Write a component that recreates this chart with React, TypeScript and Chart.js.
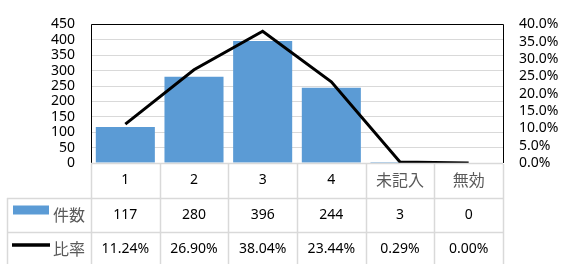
import { useEffect, useRef } from 'react';
import { Chart, registerables } from 'chart.js';

Chart.register(...registerables);

const categories = ['1', '2', '3', '4', '未記入', '無効'];
const counts = [117, 280, 396, 244, 3, 0];
const ratios = [11.24, 26.9, 38.04, 23.44, 0.29, 0.0];
const countName = '件数';
const ratioName = '比率';
const countAxis = { min: 0, max: 450, step: 50 };
const ratioAxis = { min: 0, max: 40, step: 5 };

const FONT = "'Noto Sans', 'Noto Sans CJK JP', sans-serif";
const CJK_FONT = "'Noto Sans CJK JP', sans-serif";
const BLUE = '#5B9BD5';
const GRID = '#D9D9D9';
const isCJK = (s: string) => /[^\x00-\x7F]/.test(s);

const tablePlugin = {
  id: 'dataTable',
  afterDraw(chart: any) {
    const { ctx, chartArea } = chart;
    const { left, right, top, bottom } = chartArea;
    const H = chart.height;
    const n = categories.length;
    const colW = (right - left) / n;
    const rowH = 34.5;
    const r1 = bottom;
    const r2 = bottom + rowH;
    const r3 = bottom + rowH * 2;
    const tableLeft = 7;
    ctx.save();
    // frame of plot (left, top, right)
    ctx.strokeStyle = '#000';
    ctx.lineWidth = 1;
    ctx.beginPath();
    ctx.moveTo(Math.round(left) + 0.5, Math.round(bottom));
    ctx.lineTo(Math.round(left) + 0.5, Math.round(top) + 0.5);
    ctx.lineTo(Math.round(right) + 0.5, Math.round(top) + 0.5);
    ctx.lineTo(Math.round(right) + 0.5, Math.round(bottom));
    ctx.stroke();
    // table grid
    ctx.strokeStyle = GRID;
    ctx.lineWidth = 1.5;
    ctx.beginPath();
    ctx.moveTo(left, Math.round(r1) + 0.5);
    ctx.lineTo(right, Math.round(r1) + 0.5);
    ctx.moveTo(tableLeft, Math.round(r2) + 0.5);
    ctx.lineTo(right, Math.round(r2) + 0.5);
    ctx.moveTo(tableLeft, Math.round(r3) + 0.5);
    ctx.lineTo(right, Math.round(r3) + 0.5);
    ctx.moveTo(tableLeft + 0.5, Math.round(r2));
    ctx.lineTo(tableLeft + 0.5, H);
    for (let i = 0; i <= n; i++) {
      const x = Math.round(left + i * colW) + 0.5;
      ctx.moveTo(x, Math.round(r1) + 1);
      ctx.lineTo(x, H);
    }
    ctx.stroke();
    // text
    ctx.textAlign = 'center';
    ctx.textBaseline = 'middle';
    const xs = chart.scales.x;
    for (let i = 0; i < n; i++) {
      const cx = xs.getPixelForValue(i);
      const cat = categories[i];
      if (isCJK(cat)) {
        ctx.font = `16px ${CJK_FONT}`;
        ctx.fillStyle = '#595959';
      } else {
        ctx.font = `14px ${FONT}`;
        ctx.fillStyle = '#000';
      }
      ctx.fillText(cat, cx, r1 + rowH / 2);
      ctx.font = `14px ${FONT}`;
      ctx.fillStyle = '#000';
      ctx.fillText(String(counts[i]), cx, r2 + rowH / 2);
      ctx.fillText(ratios[i].toFixed(2) + '%', cx, r3 + rowH / 2);
    }
    // legend keys
    ctx.fillStyle = BLUE;
    ctx.fillRect(13, r2 + 8, 36, 9);
    ctx.strokeStyle = '#000';
    ctx.lineWidth = 3.5;
    ctx.beginPath();
    ctx.moveTo(12, r3 + 13);
    ctx.lineTo(50, r3 + 13);
    ctx.stroke();
    ctx.fillStyle = '#595959';
    ctx.textAlign = 'left';
    ctx.font = `16px ${CJK_FONT}`;
    ctx.fillText(countName, 53, r2 + rowH / 2);
    ctx.fillText(ratioName, 53, r3 + rowH / 2);
    ctx.restore();
  },
};

export default function App() {
  const ref = useRef<HTMLCanvasElement>(null);
  useEffect(() => {
    document.body.style.margin = '0';
    const chart = new Chart(ref.current as HTMLCanvasElement, {
      type: 'bar',
      data: {
        labels: categories,
        datasets: [
          {
            type: 'line',
            label: ratioName,
            data: ratios,
            yAxisID: 'y1',
            borderColor: '#000',
            borderWidth: 3,
            pointRadius: 0,
            tension: 0,
            order: 0,
          } as any,
          {
            type: 'bar',
            label: countName,
            data: counts,
            yAxisID: 'y',
            backgroundColor: BLUE,
            barPercentage: 0.86,
            categoryPercentage: 1,
            order: 1,
          },
        ],
      },
      options: {
        responsive: false,
        animation: false,
        layout: { padding: { top: 16, bottom: 101, left: 0, right: 0 } },
        plugins: { legend: { display: false }, tooltip: { enabled: false } },
        scales: {
          x: { display: false, offset: true },
          y: {
            position: 'left',
            min: countAxis.min,
            max: countAxis.max,
            ticks: { stepSize: countAxis.step, autoSkip: false, padding: 16, color: '#000', font: { family: FONT, size: 14 } },
            grid: { color: GRID, drawTicks: false },
            border: { display: false },
            afterFit: (s: any) => { s.width = 91; },
          },
          y1: {
            position: 'right',
            min: ratioAxis.min,
            max: ratioAxis.max,
            ticks: {
              stepSize: ratioAxis.step,
              autoSkip: false,
              padding: 16,
              color: '#000',
              font: { family: FONT, size: 14 },
              callback: (v: any) => Number(v).toFixed(1) + '%',
            },
            grid: { display: false, drawTicks: false },
            border: { display: false },
            afterFit: (s: any) => { s.width = 59; },
          },
        },
      },
      plugins: [tablePlugin],
    });
    return () => chart.destroy();
  }, []);
  return (
    <div style={{ width: 562, height: 264 }}>
      <canvas ref={ref} width={562} height={264} />
    </div>
  );
}
